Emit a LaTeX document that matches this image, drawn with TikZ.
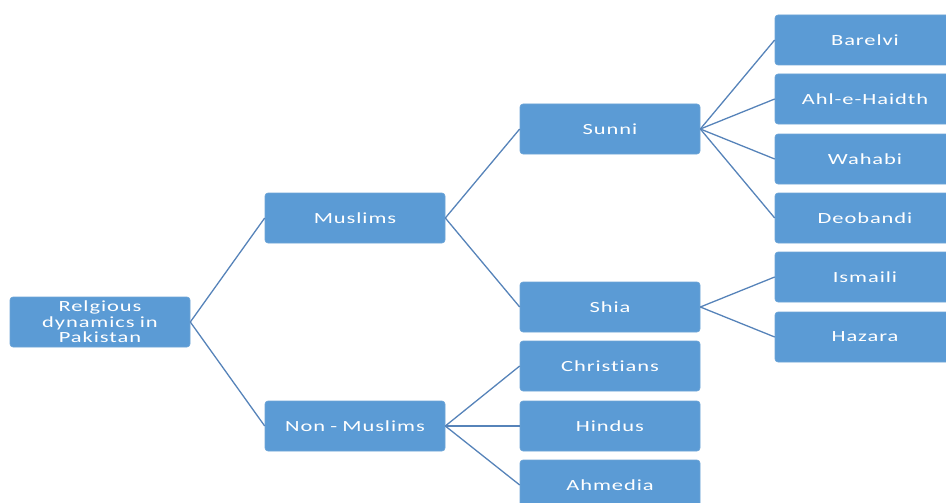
\documentclass[tikz,border=0pt]{standalone}
\usepackage{fontspec}
\setmainfont[LetterSpace=6,FakeStretch=1.45,Ligatures={NoCommon,NoRequired}]{Carlito}
\definecolor{boxfill}{RGB}{91,155,213}
\definecolor{boxedge}{RGB}{110,165,215}
\definecolor{linkcol}{RGB}{86,131,185}
\begin{document}
\begin{tikzpicture}[x=1pt,y=-1pt,
  box/.style={rectangle,rounded corners=3pt,fill=boxfill,draw=boxedge,line width=0.6pt,
    minimum width=180pt,minimum height=50pt,inner sep=2pt,text=white,
    font=\fontsize{15.5}{15.5}\selectfont,align=center,text width=176pt},
  link/.style={draw=linkcol,line width=1.3pt}]
\useasboundingbox (0,0) rectangle (946,503);
\clip (0,0) rectangle (946,503);
\node[box] (root) at (100,322) {Relgious\\dynamics in\\Pakistan};
\node[box] (mus) at (355,218) {Muslims};
\node[box] (non) at (355,426) {Non - Muslims};
\node[box] (sun) at (610,129) {Sunni};
\node[box] (shi) at (610,307) {Shia};
\node[box] (chr) at (610,366) {Christians};
\node[box] (hin) at (610,426) {Hindus};
\node[box] (ahm) at (610,485) {Ahmedia};
\node[box] (bar) at (865,40) {Barelvi};
\node[box] (ahl) at (865,99) {Ahl-e-Haidth};
\node[box] (wah) at (865,159) {Wahabi};
\node[box] (deo) at (865,218) {Deobandi};
\node[box] (ism) at (865,277) {Ismaili};
\node[box] (haz) at (865,337) {Hazara};
\foreach \a/\b in {root/mus,root/non,mus/sun,mus/shi,non/chr,non/hin,non/ahm,
  sun/bar,sun/ahl,sun/wah,sun/deo,shi/ism,shi/haz}
  \draw[link] (\a.east) -- (\b.west);
\end{tikzpicture}
\end{document}
